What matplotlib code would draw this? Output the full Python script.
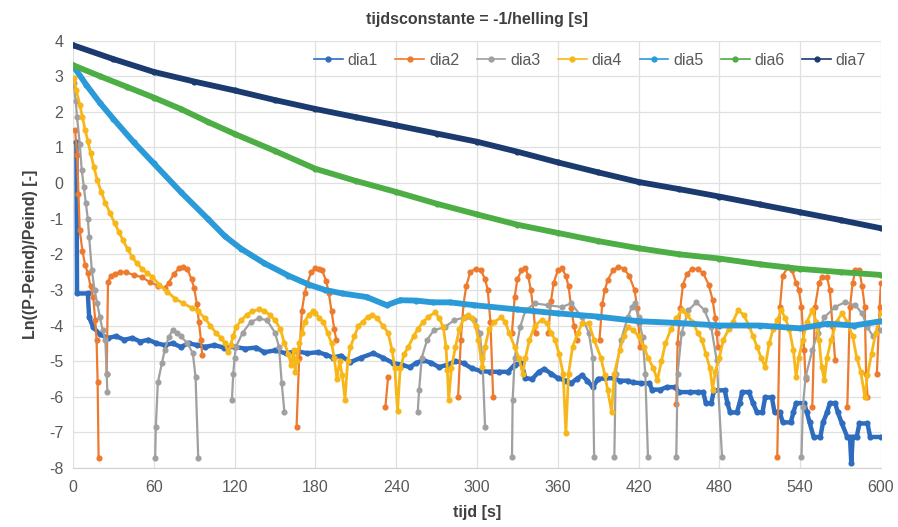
import numpy as np
import matplotlib.pyplot as plt
from matplotlib.lines import Line2D

nan = np.nan

# dia1 (step-like, quantised)
t_dia1 = [2.5, 3, 11, 12, 15, 20, 26, 32, 38, 44, 50, 56, 62, 68, 74, 80, 86, 92, 98, 105, 112, 120,
          128, 136, 142, 150, 158, 166, 174, 182, 188, 193, 199, 206, 214, 223, 230, 238, 244, 250,
          255, 260, 266, 272, 278, 284, 290, 296, 303, 310, 316, 323, 328, 333, 336, 341, 346, 350,
          355, 360, 366, 370, 374, 378, 382, 386, 390, 395, 402, 406, 412, 416, 422, 428, 430, 436,
          441, 447, 450, 458, 464, 468, 470, 474, 476, 484, 486, 488, 493, 495, 497, 502, 505, 508,
          512, 514, 519, 521, 525, 527, 533, 535, 537, 543, 545, 547, 550, 555, 557, 560, 562, 566,
          568, 571, 575, 577, 578, 579, 582, 584, 590, 592, 600]
y_dia1 = [1.15, -3.1, -3.1, -3.77, -4.05, -4.25, -4.35, -4.3, -4.4, -4.35, -4.45, -4.4, -4.5, -4.55,
          -4.5, -4.6, -4.5, -4.55, -4.6, -4.55, -4.62, -4.6, -4.65, -4.62, -4.75, -4.7, -4.78, -4.72,
          -4.78, -4.75, -4.82, -4.9, -4.85, -5.03, -4.9, -4.78, -4.9, -5.06, -5.1, -5.17, -5.05,
          -4.97, -5.05, -5.17, -5.1, -5.0, -5.06, -5.2, -5.28, -5.3, -5.3, -5.3, -5.1, -5.06, -5.48,
          -5.5, -5.3, -5.22, -5.35, -5.48, -5.55, -5.62, -5.5, -5.4, -5.55, -5.73, -5.5, -5.48, -5.48,
          -5.55, -5.55, -5.6, -5.62, -5.62, -5.8, -5.8, -5.73, -5.73, -5.87, -5.87, -5.87, -5.87,
          -6.18, -6.18, -5.82, -5.82, -6.18, -6.44, -6.44, -6.18, -5.87, -5.87, -6.18, -6.44, -6.44,
          -6.02, -6.02, -6.44, -6.44, -6.72, -6.72, -6.44, -6.18, -6.18, -6.44, -6.72, -7.13, -7.13,
          -6.72, -6.44, -6.18, -6.18, -6.44, -6.75, -7.13, -7.13, -7.87, -7.13, -7.13, -6.75, -6.75,
          -7.13, -7.13]

# dia2 (gaps where the log is undefined)
t_dia2 = [1.5, 3, 4, 5, 7, 9, 11, 13, 15, 16.5, 17.5, 18.3, 19, 22, 25, 26, 28, 31, 35, 39, 45, 51,
          57, 63, 68, 71, 75, 79, 82, 85, 88, 90, 92, 93.5, 95, 96, 130, 166, 168, 170, 172, 174, 177,
          180, 183, 185, 188, 190, 192, 194, 195.5, 214, 232, 234, 260, 286, 288, 290, 292, 295, 299,
          303, 306, 308, 310, 312, 320, 326, 328, 330, 333, 336, 338, 340, 342, 343.5, 348, 353, 355,
          357, 360, 363, 366, 368, 370, 372, 374, 382, 391, 393, 395, 397, 401, 405, 409, 413, 417,
          419, 420, 421, 435, 448, 449, 451, 453, 456, 460, 464, 468, 472, 475, 477, 478, 479, 500,
          523, 525, 527, 531, 534, 537, 539, 541, 543, 544, 546, 549, 551, 554, 556, 560, 562, 564,
          566, 570, 575, 577, 579, 581, 584, 586, 588, 589, 590, 593, 597, 599, 600]
y_dia2 = [1.5, 0.8, -0.3, -1.33, -1.9, -2.3, -2.53, -2.9, -3.2, -3.85, -4.4, -5.6, -7.72, nan, -5.35,
          -2.78, -2.6, -2.55, -2.5, -2.5, -2.58, -2.64, -2.78, -2.88, -2.95, -2.8, -2.55, -2.38, -2.35,
          -2.42, -2.7, -2.95, -3.4, -3.9, -4.4, -4.83, nan, -6.85, -4.9, -3.58, -3.1, -2.8, -2.5, -2.39,
          -2.4, -2.45, -2.75, -3.1, -3.6, -4.1, -4.4, nan, -6.28, -5.45, nan, -6.0, -4.4, -3.4, -2.9,
          -2.5, -2.4, -2.45, -2.7, -3.0, -3.9, -6.0, nan, -4.2, -3.2, -2.7, -2.45, -2.39, -2.6, -3.0,
          -3.6, -4.2, nan, -4.2, -3.3, -2.8, -2.45, -2.39, -2.6, -2.9, -3.5, -4.0, -4.4, nan, -4.4,
          -3.4, -3.0, -2.73, -2.45, -2.35, -2.4, -2.6, -3.0, -3.5, -3.94, -4.6, nan, -6.2, -4.5, -3.5,
          -2.85, -2.55, -2.4, -2.42, -2.53, -2.85, -3.28, -3.8, -4.2, -4.6, nan, -7.7, -3.48, -2.6,
          -2.36, -2.45, -2.8, -3.0, -3.48, -4.7, -5.5, nan, -6.3, -3.48, -2.8, -2.64, -2.64, -3.0,
          -4.0, -4.97, nan, -6.3, -3.48, -2.8, -2.45, -2.45, -2.9, -3.48, -5.35, -6.0, nan, -5.35,
          -3.48, -2.82]

# dia3
t_dia3 = [0.5, 2, 3, 5, 6.5, 8, 9.5, 11, 12, 14, 16, 18, 20, 22, 24, 25, 25.5, 40, 61, 61.5, 63, 66,
          68, 71, 74, 77, 80, 85, 89, 91, 93, 100, 118, 119, 120, 121, 126, 132, 138, 144, 150, 153,
          155, 157, 200, 256, 257, 259, 263, 268, 276, 283, 291, 298, 302, 304, 306, 315, 326, 326.5,
          328, 332, 336, 343, 353, 363, 370, 378, 383, 386, 387, 395, 402, 403, 407, 412, 415, 417,
          420, 423, 425, 427, 440, 448, 449, 452, 457, 463, 469, 474, 478, 482, 510, 541, 542, 544,
          549, 553, 558, 566, 573, 581, 586, 590, 594, 600]
y_dia3 = [2.8, 2.3, 1.85, 1.1, 0.36, -0.1, -0.56, -1.0, -1.52, -2.45, -3.0, -3.38, -3.77, -4.13,
          -4.4, -5.35, -5.87, nan, -7.72, -6.85, -5.6, -5.06, -4.7, -4.33, -4.13, -4.2, -4.3, -4.5,
          -4.78, -5.45, -7.72, nan, -6.1, -5.35, -4.9, -4.6, -4.2, -3.9, -3.8, -3.85, -4.2, -4.6,
          -5.62, -6.43, nan, -6.43, -5.82, -4.9, -4.4, -4.13, -4.05, -3.85, -3.77, -3.85, -4.2, -4.9,
          -6.85, nan, -7.7, -6.1, -4.9, -4.05, -3.57, -3.38, -3.43, -3.48, -3.38, -3.77, -4.2, -4.9,
          -7.7, nan, -7.7, -5.35, -4.4, -3.77, -3.48, -3.38, -3.77, -4.33, -5.35, -7.7, nan, -7.7,
          -5.35, -4.2, -3.57, -3.35, -3.57, -4.05, -4.97, -7.7, nan, -7.7, -6.3, -5.45, -4.7, -4.2,
          -3.77, -3.48, -3.35, -3.43, -3.66, -4.05, -4.3, -4.13]

# dia4
t_dia4 = [0.5, 2.5, 5, 7, 9, 11, 13, 15.5, 18, 21, 24, 27.5, 31, 34, 37, 40.5, 44, 47.5, 51, 55, 59,
          64, 70, 76, 82, 88, 93, 98, 102, 106, 110, 113, 115, 117, 119, 121, 125, 129, 133, 138, 142,
          146, 150, 154, 157, 160, 162, 164, 165, 166, 168, 170, 172, 175, 178, 180, 183, 186, 189,
          192, 194, 196, 198, 200, 202, 204, 206, 209, 212, 215, 219, 222, 226, 230, 234, 237, 239,
          241, 243, 246, 249, 253, 256, 260, 264, 269, 272, 275, 277, 278, 279, 281, 284, 287, 290,
          293, 296, 299, 301, 304, 306, 309, 313, 318, 321, 324, 328, 331, 334, 336, 339, 343, 348,
          352, 355, 358, 361, 364, 366, 368, 371, 375, 378, 383, 387, 392, 395, 397, 400, 402, 406,
          409, 412, 416, 420, 424, 427, 431, 434, 437, 440, 444, 448, 452, 456, 460, 464, 467, 470,
          473, 475, 477, 480, 483, 487, 490, 494, 498, 502, 505, 508, 511, 514, 517, 520, 523, 526,
          529, 532, 535, 537, 539, 542, 545, 549, 552, 554, 556, 558, 560, 563, 567, 571, 575, 579,
          582, 585, 588, 590, 593, 596, 600]
y_dia4 = [2.95, 2.6, 2.2, 1.85, 1.5, 1.18, 0.85, 0.45, 0.08, -0.25, -0.55, -0.85, -1.13, -1.37,
          -1.6, -1.85, -2.08, -2.25, -2.4, -2.52, -2.64, -2.85, -3.05, -3.25, -3.38, -3.5, -3.6,
          -3.8, -4.0, -4.2, -4.35, -4.5, -4.75, -4.55, -4.3, -4.05, -3.85, -3.7, -3.6, -3.55, -3.58,
          -3.7, -3.85, -4.1, -4.5, -4.8, -5.1, -4.7, -5.3, -5.0, -4.5, -4.2, -3.9, -3.7, -3.6, -3.65,
          -3.8, -3.9, -4.2, -4.5, -4.9, -5.5, -5.0, -5.4, -6.08, -5.0, -4.6, -4.3, -4.0, -3.9, -3.75,
          -3.7, -3.8, -4.0, -4.2, -4.7, -5.2, -6.4, -5.2, -4.8, -4.6, -4.3, -4.1, -3.9, -3.75, -3.63,
          -3.8, -4.05, -4.6, -5.25, -6.1, -5.2, -4.6, -4.1, -3.8, -3.7, -3.8, -4.0, -4.4, -5.17, -4.6,
          -4.1, -3.9, -3.77, -3.9, -4.22, -4.6, -4.9, -5.35, -4.9, -4.4, -4.0, -3.85, -3.94, -4.2,
          -4.4, -4.8, -5.35, -7.02, -5.35, -4.6, -4.2, -3.94, -3.94, -4.4, -4.9, -5.4, -5.8, -6.43,
          -5.35, -4.7, -4.3, -4.05, -4.13, -4.3, -4.6, -4.9, -5.2, -5.53, -5.0, -4.5, -4.1, -3.8,
          -3.57, -3.7, -3.9, -4.2, -4.4, -4.8, -5.2, -5.8, -5.3, -4.9, -4.4, -4.1, -3.9, -3.57, -3.7,
          -4.0, -4.3, -4.6, -4.9, -5.17, -4.5, -4.1, -3.85, -3.57, -3.8, -4.1, -4.7, -5.45, -4.9,
          -4.4, -3.9, -3.57, -3.9, -4.4, -5.17, -5.53, -4.9, -4.4, -3.9, -3.66, -3.9, -4.3, -4.9,
          -5.3, -6.0, -5.4, -4.8, -4.22, -3.66]

# dia5
t_dia5 = [0, 10, 20, 30, 45, 60, 80, 100, 113, 125, 142, 160, 175, 187, 200, 218, 233, 243, 255,
          267, 280, 298, 330, 360, 390, 420, 450, 480, 510, 540, 560, 580, 600]
y_dia5 = [3.3, 2.75, 2.25, 1.8, 1.15, 0.55, -0.25, -1.0, -1.5, -1.85, -2.25, -2.6, -2.85, -3.0,
          -3.1, -3.2, -3.43, -3.29, -3.3, -3.35, -3.35, -3.43, -3.55, -3.66, -3.75, -3.88, -3.93,
          -4.0, -4.0, -4.08, -3.95, -4.0, -3.88]

# dia6
t_dia6 = [0, 20, 40, 60, 80, 100, 120, 150, 180, 210, 240, 270, 300, 330, 360, 390, 420, 450, 480,
          510, 540, 570, 600]
y_dia6 = [3.31, 3.0, 2.7, 2.4, 2.08, 1.72, 1.38, 0.9, 0.4, 0.06, -0.25, -0.58, -0.88, -1.17, -1.4,
          -1.63, -1.83, -2.0, -2.12, -2.28, -2.41, -2.5, -2.58]

# dia7
t_dia7 = [0, 30, 60, 90, 120, 150, 180, 210, 240, 270, 300, 330, 360, 390, 420, 450, 480, 510, 540,
          570, 600]
y_dia7 = [3.87, 3.48, 3.12, 2.85, 2.6, 2.33, 2.08, 1.85, 1.62, 1.39, 1.16, 0.88, 0.58, 0.3, 0.03,
          -0.17, -0.38, -0.6, -0.82, -1.04, -1.27]

labels = ['dia1', 'dia2', 'dia3', 'dia4', 'dia5', 'dia6', 'dia7']
colors = ['#2e6cc0', '#ee7a2e', '#a0a0a0', '#f7b719', '#2a9ad8', '#4cae44', '#1b3a6f']
xticks = [0, 60, 120, 180, 240, 300, 360, 420, 480, 540, 600]

plt.rcParams['font.family'] = ['Liberation Sans', 'DejaVu Sans']
plt.rcParams['axes.unicode_minus'] = False

fig = plt.figure(figsize=(8.98, 5.27), dpi=100)
ax = fig.add_axes([0.0813, 0.112, 0.8997, 0.811])

series = [(t_dia1, y_dia1), (t_dia2, y_dia2), (t_dia3, y_dia3), (t_dia4, y_dia4),
          (t_dia5, y_dia5), (t_dia6, y_dia6), (t_dia7, y_dia7)]
widths = [3.2, 1.6, 1.6, 2.0, 4.2, 4.2, 4.2]
for i, (t, y) in enumerate(series):
    ax.plot(t, y, color=colors[i], lw=widths[i], marker='o', ms=3.4, zorder=2 + i,
            solid_capstyle='round', solid_joinstyle='round')

ax.set_xlim(0, 600)
ax.set_ylim(-8, 4)
ax.set_xticks(xticks)
ax.set_yticks(range(-8, 5))
ax.grid(True, color='#e0e0e0', lw=0.9)
ax.set_axisbelow(True)
for s in ['top', 'right', 'left']:
    ax.spines[s].set_visible(False)
ax.spines['bottom'].set_color('#d0d0d0')
ax.tick_params(length=0, labelsize=11.5, labelcolor='#595959')
ax.tick_params(axis='x', pad=9)
ax.tick_params(axis='y', pad=7)

ax.set_title('tijdsconstante = -1/helling [s]', fontsize=11.5, fontweight='bold',
             color='#404040', pad=12)
ax.set_xlabel('tijd [s]', fontsize=11.5, fontweight='bold', color='#404040', labelpad=7)
ax.set_ylabel('Ln((P-Peind)/Peind) [-]', fontsize=11.5, fontweight='bold', color='#404040',
              labelpad=8)

handles = [Line2D([], [], color=c, lw=1.2, marker='o', ms=3.5) for c in colors]
ax.legend(handles, labels, ncol=7, loc='center', bbox_to_anchor=(0.64, 0.954), frameon=False,
          fontsize=11.5, handlelength=1.8, handletextpad=0.3, columnspacing=1.1,
          labelcolor='#595959')

fig.savefig('out.png', dpi=100)
